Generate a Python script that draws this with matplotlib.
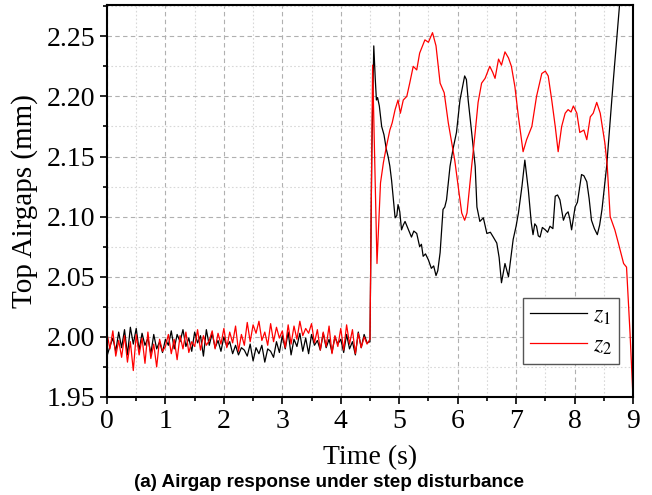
import numpy as np
import matplotlib.pyplot as plt
from matplotlib.ticker import MultipleLocator

# sampled every 0.05 s before the step
t_pre = np.round(np.arange(90) * 0.05, 2)

z1_pre = [
    1.984, 1.992, 1.999, 1.988, 2.004, 1.991, 2.006, 1.985, 2.008, 1.994,
    2.007, 1.989, 2.003, 1.993, 1.999, 1.986, 2.002, 1.990, 1.996, 1.987,
    1.998, 1.993, 2.005, 1.990, 2.002, 1.996, 2.006, 1.992, 1.999, 1.988,
    2.004, 1.995, 2.001, 1.984, 2.006, 1.993, 2.003, 1.991, 1.997, 1.988,
    2.000, 1.992, 1.996, 1.986, 1.993, 1.985, 1.991, 1.989, 1.984, 1.994,
    1.980, 1.991, 1.986, 1.993, 1.979, 1.990, 1.988, 1.983, 1.996, 1.987,
    2.001, 1.990, 2.004, 1.985, 1.998, 1.992, 2.003, 1.988, 1.999, 1.986,
    2.002, 1.993, 1.997, 1.989, 2.003, 1.991, 1.998, 1.987, 2.000, 1.994,
    1.998, 1.987, 2.002, 1.990, 1.996, 1.985, 2.004, 1.991, 2.002, 1.995,
]
z2_pre = [
    2.003, 1.990, 2.005, 1.984, 1.997, 1.983, 2.001, 1.979, 1.996, 1.972,
    2.002, 1.985, 1.999, 1.978, 2.004, 1.982, 1.994, 1.975, 1.998, 1.988,
    1.992, 2.002, 1.986, 1.998, 1.981, 2.001, 1.990, 2.004, 1.987, 1.996,
    1.992, 2.006, 1.989, 2.001, 1.993, 1.997, 2.005, 1.990, 2.003, 1.994,
    2.007, 1.991, 2.004, 1.995, 2.009, 1.988, 2.002, 1.993, 2.012, 1.996,
    2.010, 2.003, 2.013, 1.997, 2.004, 1.993, 2.011, 1.996, 2.008, 1.999,
    2.005, 1.991, 2.010, 1.994, 2.009, 1.998, 2.013, 2.001, 2.007, 2.003,
    2.011, 1.995, 2.006, 1.989, 2.004, 1.992, 2.009, 1.986, 2.001, 1.992,
    2.007, 1.989, 2.010, 1.994, 2.006, 1.986, 2.003, 1.991, 2.000, 1.994,
]

# after the step disturbance
t1_post = [4.50, 4.53, 4.565, 4.59, 4.61, 4.63, 4.66, 4.70, 4.74, 4.78, 4.81,
           4.84, 4.87, 4.90, 4.93, 4.96, 4.98, 5.01, 5.04, 5.07, 5.10, 5.15,
           5.21, 5.25, 5.30, 5.35, 5.38, 5.41, 5.45, 5.50, 5.55, 5.59, 5.63,
           5.66, 5.70, 5.75, 5.78, 5.81, 5.87, 5.92, 5.98, 6.04, 6.08, 6.12,
           6.15, 6.18, 6.24, 6.30, 6.33, 6.38, 6.44, 6.50, 6.56, 6.61, 6.67,
           6.71, 6.75, 6.81, 6.87, 6.95, 7.00, 7.04, 7.10, 7.15, 7.21, 7.26,
           7.29, 7.32, 7.35, 7.38, 7.41, 7.45, 7.50, 7.54, 7.58, 7.63, 7.67,
           7.71, 7.75, 7.81, 7.85, 7.89, 7.92, 7.95, 8.01, 8.05, 8.12, 8.16,
           8.21, 8.25, 8.29, 8.34, 8.39, 8.43, 8.47, 8.55, 8.66, 8.77, 8.85]
z1_post = [1.996, 2.150, 2.242, 2.215, 2.197, 2.199, 2.192, 2.175, 2.168,
           2.156, 2.150, 2.142, 2.130, 2.114, 2.099, 2.101, 2.110, 2.104,
           2.089, 2.093, 2.096, 2.090, 2.083, 2.088, 2.086, 2.075, 2.077,
           2.067, 2.069, 2.064, 2.057, 2.059, 2.051, 2.055, 2.070, 2.106,
           2.108, 2.114, 2.142, 2.156, 2.170, 2.197, 2.207, 2.217, 2.214,
           2.197, 2.170, 2.142, 2.108, 2.096, 2.099, 2.086, 2.087, 2.083,
           2.078, 2.066, 2.045, 2.061, 2.050, 2.081, 2.092, 2.103, 2.125,
           2.147, 2.122, 2.095, 2.085, 2.094, 2.092, 2.084, 2.083, 2.091,
           2.089, 2.087, 2.092, 2.090, 2.117, 2.118, 2.114, 2.097, 2.102,
           2.104, 2.098, 2.089, 2.108, 2.112, 2.135, 2.134, 2.129, 2.115,
           2.097, 2.090, 2.085, 2.093, 2.106, 2.142, 2.211, 2.275, 2.330]

t2_post = [4.50, 4.52, 4.545, 4.58, 4.62, 4.68, 4.73, 4.78, 4.84, 4.88, 4.93,
           4.98, 5.02, 5.07, 5.13, 5.18, 5.24, 5.30, 5.35, 5.44, 5.50, 5.57,
           5.63, 5.70, 5.77, 5.84, 5.90, 5.95, 6.01, 6.07, 6.12, 6.16, 6.24,
           6.30, 6.35, 6.41, 6.47, 6.55, 6.60, 6.64, 6.70, 6.75, 6.81, 6.87,
           6.92, 6.98, 7.04, 7.12, 7.18, 7.27, 7.35, 7.44, 7.50, 7.55, 7.61,
           7.67, 7.72, 7.78, 7.84, 7.89, 7.94, 7.98, 8.04, 8.09, 8.16, 8.21,
           8.27, 8.32, 8.38, 8.44, 8.52, 8.56, 8.61, 8.69, 8.75, 8.84, 8.89,
           8.95, 9.00]
z2_post = [1.998, 2.100, 2.226, 2.150, 2.061, 2.128, 2.145, 2.158, 2.172,
           2.178, 2.189, 2.197, 2.186, 2.197, 2.200, 2.211, 2.225, 2.222,
           2.236, 2.247, 2.245, 2.253, 2.242, 2.211, 2.203, 2.178, 2.161,
           2.147, 2.125, 2.103, 2.097, 2.103, 2.142, 2.170, 2.195, 2.211,
           2.215, 2.225, 2.220, 2.215, 2.231, 2.226, 2.237, 2.232, 2.225,
           2.208, 2.183, 2.154, 2.164, 2.175, 2.200, 2.219, 2.221, 2.217,
           2.197, 2.175, 2.154, 2.175, 2.186, 2.189, 2.187, 2.192, 2.186,
           2.170, 2.172, 2.164, 2.183, 2.186, 2.195, 2.186, 2.161, 2.142,
           2.100, 2.089, 2.078, 2.061, 2.058, 2.003, 1.950]

t1 = np.concatenate([t_pre, t1_post])
z1 = np.concatenate([z1_pre, z1_post])
t2 = np.concatenate([t_pre, t2_post])
z2 = np.concatenate([z2_pre, z2_post])

plt.rcParams['font.family'] = ['Liberation Serif', 'DejaVu Serif']
plt.rcParams['mathtext.fontset'] = 'stix'

fig = plt.figure(figsize=(6.52, 4.95), dpi=100)
ax = fig.add_axes([0.1641, 0.198, 0.8067, 0.7919])

ax.plot(t1, z1, color='black', lw=0.9, label=r'$z_1$')
ax.plot(t2, z2, color='red', lw=0.9, label=r'$z_2$')

ax.set_xlim(0, 9)
ax.set_ylim(1.95, 2.276)
ax.xaxis.set_major_locator(MultipleLocator(1))
ax.xaxis.set_minor_locator(MultipleLocator(0.5))
ax.yaxis.set_major_locator(MultipleLocator(0.05))
ax.yaxis.set_minor_locator(MultipleLocator(0.025))
ax.yaxis.set_major_formatter(plt.FormatStrFormatter('%.2f'))

ax.grid(which='major', color='#b0b0b0', ls=(0, (4, 3)), lw=0.8)
ax.grid(which='minor', color='#d8d8d8', ls=(0, (1.5, 2)), lw=0.8)
ax.set_axisbelow(True)

ax.tick_params(which='both', direction='out', labelsize=20, width=1.2)
ax.tick_params(which='major', length=5)
ax.tick_params(which='minor', length=3)
for s in ax.spines.values():
    s.set_linewidth(1.5)

ax.set_xlabel('Time (s)', fontsize=20, labelpad=8)
ax.set_ylabel('Top Airgaps (mm)', fontsize=21, labelpad=6)

leg = ax.legend(loc='lower right', bbox_to_anchor=(0.973, 0.084),
                borderaxespad=0, fontsize=17, fancybox=False,
                edgecolor='#555555', framealpha=1, handlelength=2.4,
                handletextpad=0.25, borderpad=0.3, labelspacing=0.35)
leg.get_frame().set_linewidth(1.0)

fig.text(0.505, 0.016, '(a) Airgap response under step disturbance',
         family='Liberation Sans', weight='bold', fontsize=13.6, ha='center')

fig.savefig('out.png', dpi=100)
